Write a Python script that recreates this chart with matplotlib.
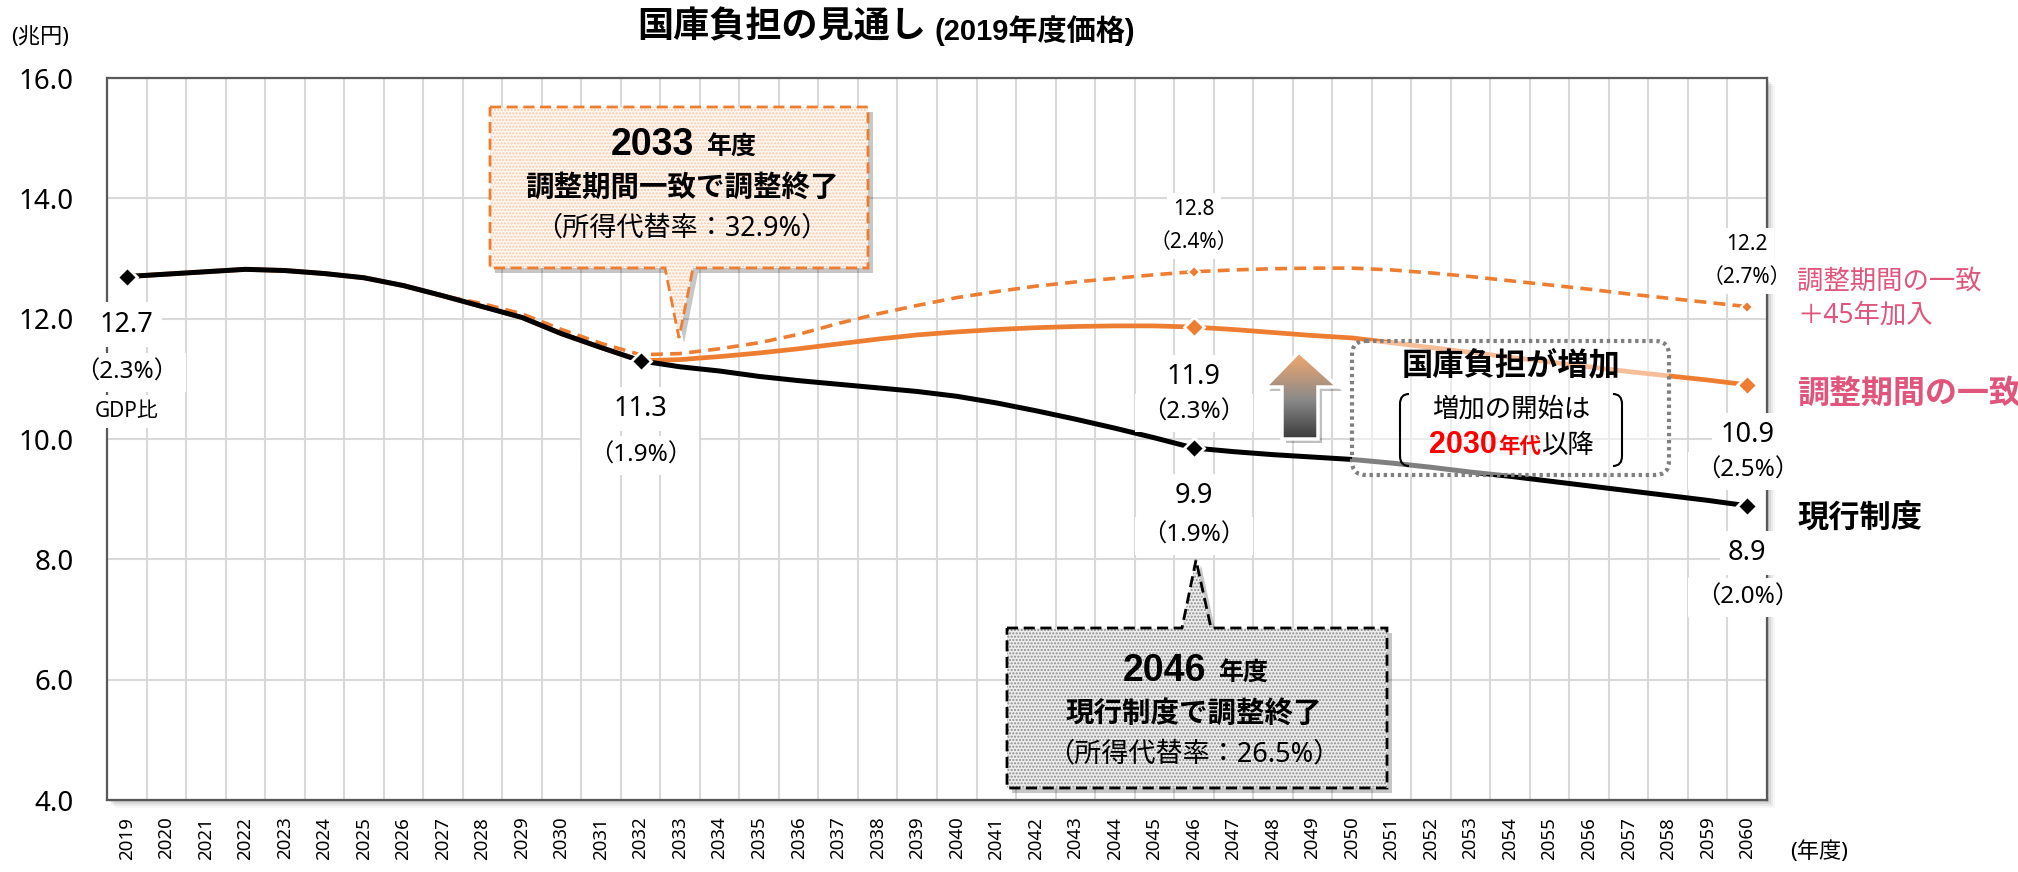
import numpy as np
import matplotlib
matplotlib.use("Agg")
import matplotlib.pyplot as plt
from matplotlib.patches import Polygon, FancyBboxPatch, PathPatch, Rectangle
from matplotlib.path import Path
from matplotlib.colors import to_rgb

plt.rcParams['font.family'] = ['Noto Sans', 'Noto Sans CJK JP', 'DejaVu Sans']
BOLD_FAMILY = ['Liberation Sans', 'Noto Sans CJK JP', 'DejaVu Sans']

# ---------------- Data ---------------- #
years = list(range(2019, 2061))

# 現行制度
current = [12.70, 12.74, 12.78, 12.82, 12.80, 12.75, 12.68, 12.55, 12.38, 12.20,
           12.02, 11.75, 11.52, 11.30, 11.20, 11.13, 11.04, 10.97, 10.91, 10.85,
           10.79, 10.71, 10.60, 10.47, 10.33, 10.18, 10.02, 9.85, 9.79, 9.74,
           9.70, 9.66, 9.60, 9.53, 9.45, 9.38, 9.30, 9.22, 9.14, 9.06,
           8.98, 8.89]

# 調整期間の一致
match = [12.70, 12.74, 12.78, 12.82, 12.80, 12.75, 12.68, 12.55, 12.38, 12.20,
         12.02, 11.75, 11.52, 11.30, 11.32, 11.37, 11.43, 11.50, 11.58, 11.66,
         11.73, 11.78, 11.82, 11.85, 11.87, 11.88, 11.88, 11.86, 11.82, 11.77,
         11.72, 11.68, 11.60, 11.52, 11.44, 11.36, 11.28, 11.20, 11.12, 11.05,
         10.98, 10.90]

# 調整期間の一致+45年加入
match45 = [12.70, 12.74, 12.78, 12.82, 12.80, 12.75, 12.68, 12.55, 12.38, 12.25,
           12.08, 11.82, 11.59, 11.40, 11.42, 11.50, 11.60, 11.74, 11.92, 12.08,
           12.22, 12.35, 12.45, 12.54, 12.61, 12.67, 12.73, 12.78, 12.81, 12.83,
           12.84, 12.84, 12.81, 12.76, 12.70, 12.63, 12.56, 12.49, 12.41, 12.34,
           12.27, 12.20]

y_ticks = [4.0, 6.0, 8.0, 10.0, 12.0, 14.0, 16.0]

# GDP比 labels: (year, value text, ratio text)
labels_current = [(2019, "12.7", "（2.3%）"), (2032, "11.3", "（1.9%）"),
                  (2046, "9.9", "（1.9%）"), (2060, "8.9", "（2.0%）")]
labels_match = [(2046, "11.9", "（2.3%）"), (2060, "10.9", "（2.5%）")]
labels_match45 = [(2046, "12.8", "（2.4%）"), (2060, "12.2", "（2.7%）")]

ORANGE = "#ED7D31"
PINK = "#E0557B"
GRID = "#D9D9D9"

# ---------------- Figure ---------------- #
W, H = 2018, 872
fig = plt.figure(figsize=(W / 100, H / 100), dpi=100)

AX_L, AX_R, AX_T, AX_B = 107, 1767, 78, 800

bg = fig.add_axes([0, 0, 1, 1], zorder=0)
bg.set_xlim(0, W)
bg.set_ylim(H, 0)
bg.axis("off")
# soft shadow under the plot area
for d, a in [(2, 0.10), (4, 0.07), (6, 0.05), (8, 0.03)]:
    bg.add_patch(Rectangle((AX_L + d, AX_T + d), AX_R - AX_L, AX_B - AX_T,
                           fc="black", ec="none", alpha=a))

ax = fig.add_axes([AX_L / W, 1 - AX_B / H, (AX_R - AX_L) / W, (AX_B - AX_T) / H], zorder=1)
ax.set_facecolor("white")

x = np.arange(len(years))
ax.plot(x, match45, color=ORANGE, lw=2.6, ls=(0, (3.3, 2.0)), zorder=3)
ax.plot(x, match, color=ORANGE, lw=3.4, zorder=3.1, solid_capstyle="round")
ax.plot(x, current, color="black", lw=3.6, zorder=3.2, solid_capstyle="round")

i46 = years.index(2046)
i60 = years.index(2060)
i32 = years.index(2032)
ax.plot([i46, i60], [match45[i46], match45[i60]], "D", ms=6, color=ORANGE,
        mec="white", mew=1.5, zorder=4)
ax.plot([i46, i60], [match[i46], match[i60]], "D", ms=10.5, color=ORANGE,
        mec="white", mew=2, zorder=4)
ax.plot([0, i32, i46, i60], [current[0], current[i32], current[i46], current[i60]],
        "D", ms=10, color="black", mec="white", mew=2, zorder=4.1)

ax.set_xlim(-0.5, len(years) - 0.5)
ax.set_ylim(4, 16)
ax.set_yticks(y_ticks)
ax.set_yticklabels([f"{v:.1f}" for v in y_ticks], fontsize=20)
ax.set_xticks(x)
ax.set_xticklabels([str(y) for y in years], rotation=90, fontsize=13.5)
ax.set_xticks(np.arange(-0.5, len(years), 1), minor=True)
ax.tick_params(axis="y", length=0, pad=24)
ax.tick_params(axis="x", which="both", length=0, pad=12)
ax.grid(axis="y", which="major", color=GRID, lw=1.5, zorder=0)
ax.grid(axis="x", which="minor", color=GRID, lw=1.5, zorder=0)
ax.set_axisbelow(True)
for s in ax.spines.values():
    s.set_color("#595959")
    s.set_linewidth(1.6)


def data_label(xi, yv, text, dy_px, size):
    ax.annotate(text, xy=(xi, yv), xytext=(0, -dy_px * 0.72), textcoords="offset points",
                ha="center", va="center", fontsize=size, zorder=6, annotation_clip=False,
                bbox=dict(boxstyle="square,pad=0.3", fc="white", ec="none"))


offs_current = {2019: (48, 96), 2032: (48, 95), 2046: (48, 88), 2060: (47, 92)}
for yr, val, pct in labels_current:
    i = years.index(yr)
    d1, d2 = offs_current[yr]
    data_label(i, current[i], val, d1, 19.5)
    data_label(i, current[i], pct, d2, 17.5)
data_label(0, current[0], "GDP比", 135, 15)

for yr, val, pct in labels_match:
    i = years.index(yr)
    data_label(i, match[i], val, 50, 19.5)
    data_label(i, match[i], pct, 86, 17.5)

for yr, val, pct in labels_match45:
    i = years.index(yr)
    data_label(i, match45[i], val, -62, 15)
    data_label(i, match45[i], pct, -29, 15)

# ---------------- Overlay (pixel coordinates) ---------------- #
ov = fig.add_axes([0, 0, 1, 1], zorder=2)
ov.axis("off")

ov.text(637, 28, "国庫負担の見通し", fontsize=26, fontweight="bold", family=BOLD_FAMILY,
        ha="left", va="center")
ov.text(935, 31, "(2019年度価格)", fontsize=21, fontweight="bold", family=BOLD_FAMILY,
        ha="left", va="center")
ov.text(40, 37, "(兆円)", fontsize=16, ha="center", va="center")
ov.text(1790, 852, "(年度)", fontsize=16, ha="left", va="center")

ov.text(1797, 282, "調整期間の一致", color=PINK, fontsize=19, ha="left", va="center")
ov.text(1797, 316, "＋45年加入", color=PINK, fontsize=19, ha="left", va="center")
ov.text(1797, 395, "調整期間の一致", color=PINK, fontsize=23, fontweight="bold",
        family=BOLD_FAMILY, ha="left", va="center")
ov.text(1797, 520, "現行制度", color="black", fontsize=22.5, fontweight="bold",
        family=BOLD_FAMILY, ha="left", va="center")


def callout(pts, face, hatch_col, edge):
    ov.add_patch(Polygon([(a + 5, b + 5) for a, b in pts], closed=True, fc="black",
                         ec="none", alpha=0.22, zorder=3))
    ov.add_patch(Polygon(pts, closed=True, fc=face, ec=hatch_col, lw=0, hatch=".....",
                         zorder=4))
    ov.add_patch(Polygon(pts, closed=True, fc="none", ec=edge, lw=2, ls=(0, (4, 2)),
                         zorder=5))


def callout_text(cx, top_y, year, line2, line3):
    ov.text(cx + 12, top_y, year, fontsize=27, fontweight="bold", family=BOLD_FAMILY,
            ha="right", va="baseline", zorder=6)
    ov.text(cx + 24, top_y, "年度", fontsize=18, fontweight="bold", family=BOLD_FAMILY,
            ha="left", va="baseline", zorder=6)
    ov.text(cx, top_y + 33, line2, fontsize=20.5, fontweight="bold", family=BOLD_FAMILY,
            ha="center", va="center", zorder=6)
    ov.text(cx, top_y + 73, line3, fontsize=19.5, ha="center", va="center", zorder=6)


# 2033 callout (orange)
callout([(490, 107), (868, 107), (868, 268), (693, 268), (679, 338), (665, 268), (490, 268)],
        "#FFF6F0", "#F8CBAD", ORANGE)
callout_text(682, 155, "2033", "調整期間一致で調整終了", "（所得代替率：32.9%）")

# 2046 callout (gray)
callout([(1007, 628), (1182, 628), (1196, 560), (1211, 628), (1387, 628), (1387, 788), (1007, 788)],
        "#EDEDED", "#8C8C8C", "black")
callout_text(1194, 681, "2046", "現行制度で調整終了", "（所得代替率：26.5%）")

# up arrow with gradient
arrow_pts = [(1299, 352), (1338, 387), (1318, 387), (1318, 439), (1282, 439), (1282, 387), (1265, 387)]
ov.add_patch(Polygon([(a + 4, b + 4) for a, b in arrow_pts], closed=True, fc="black",
                     ec="none", alpha=0.25, zorder=3))
clip = Polygon(arrow_pts, closed=True, fc="none", ec="none", zorder=4)
ov.add_patch(clip)
t = np.linspace(0, 1, 120)[:, None]
top_c = np.array(to_rgb("#F4A86E"))
mid_c = np.array(to_rgb("#8A8A8A"))
bot_c = np.array(to_rgb("#3A3A3A"))
grad = np.where(t < 0.55, top_c * (1 - t / 0.55) + mid_c * (t / 0.55),
                mid_c * (1 - (t - 0.55) / 0.45) + bot_c * ((t - 0.55) / 0.45))
im = ov.imshow(grad[:, None, :], extent=(1265, 1338, 439, 352), aspect="auto", zorder=4.5)
im.set_clip_path(clip)
ov.add_patch(Polygon(arrow_pts, closed=True, fc="none", ec="white", lw=2.5, zorder=5))

# dotted box 国庫負担が増加
ov.add_patch(FancyBboxPatch((1352, 341), 317, 134, boxstyle="round,pad=0,rounding_size=14",
                            fc=(1, 1, 1, 0.5), ec="#7F7F7F", lw=3, ls=(0, (0.8, 0.9)), zorder=3))
ov.text(1511, 367, "国庫負担が増加", fontsize=22.5, fontweight="bold", family=BOLD_FAMILY,
        ha="center", va="center", zorder=6)
ov.text(1511, 410, "増加の開始は", fontsize=19, ha="center", va="center", zorder=6)
ov.text(1497, 453, "2030", fontsize=22, fontweight="bold", family=BOLD_FAMILY,
        color="#FF0000", ha="right", va="baseline", zorder=6)
ov.text(1498, 453, "年代", fontsize=15.5, fontweight="bold", family=BOLD_FAMILY,
        color="#FF0000", ha="left", va="baseline", zorder=6)
ov.text(1541, 453, "以降", fontsize=19, ha="left", va="baseline", zorder=6)

# brackets
for xb, sgn in [(1400, 1), (1622, -1)]:
    verts = [(xb + 9 * sgn, 394), (xb, 394), (xb, 404), (xb, 456), (xb, 466), (xb + 9 * sgn, 466)]
    codes = [Path.MOVETO, Path.CURVE3, Path.CURVE3, Path.LINETO, Path.CURVE3, Path.CURVE3]
    ov.add_patch(PathPatch(Path(verts, codes), fc="none", ec="black", lw=1.5, zorder=6))

ov.set_xlim(0, W)
ov.set_ylim(H, 0)

fig.savefig("out.png", dpi=100, facecolor="white")
